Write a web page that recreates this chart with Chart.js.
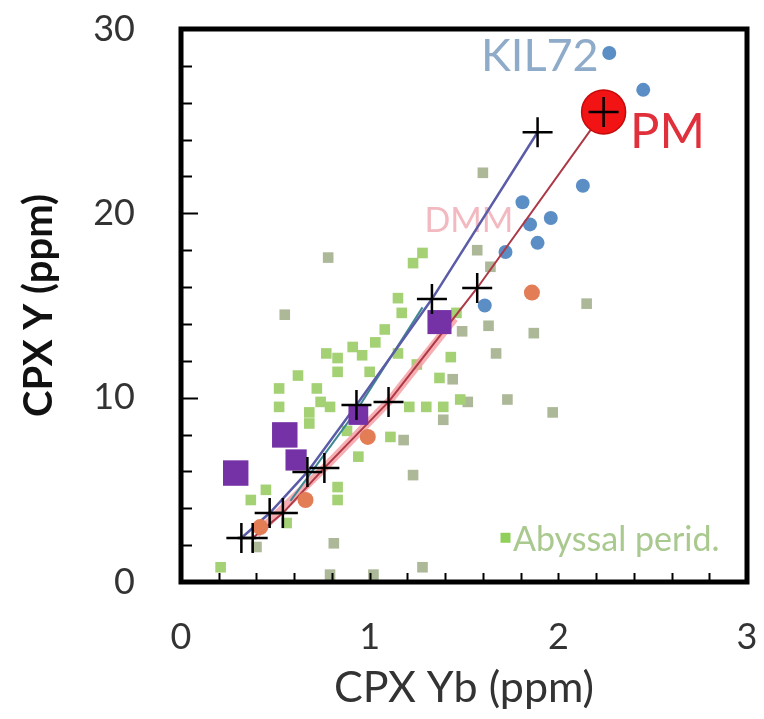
<!DOCTYPE html>
<html>
<head>
<meta charset="utf-8">
<script src="https://cdn.jsdelivr.net/npm/chart.js@4.4.1/dist/chart.umd.min.js"></script>
<style>
  html, body { margin: 0; padding: 0; background: #fff; }
  #wrap { width: 764px; height: 719px; }
</style>
</head>
<body>
<div id="wrap"><canvas id="cpxChart" width="764" height="719"></canvas></div>
<script>
// axis ticks
const xTickLabels = [0, 1, 2, 3];
const yTickLabels = [0, 10, 20, 30];
const xMinorStep = 0.2;
const yMinorStep = 2;

// abyssal peridotites (grey-green and bright green squares)
const abyssalGrey = [
  [0.78, 17.6], [0.55, 14.5], [1.60, 22.2], [1.57, 18.0], [1.64, 17.1], [2.15, 15.1],
  [1.87, 13.5], [1.67, 12.4], [1.73, 9.9], [1.97, 9.2], [1.18, 7.7], [1.23, 5.8],
  [0.81, 2.1], [1.28, 0.8], [0.79, 0.4], [1.02, 0.4], [0.40, 1.9], [1.52, 9.77],
  [1.49, 13.6], [1.63, 13.9], [1.44, 11.0], [1.39, 8.8]
];
const abyssalGreen = [
  [1.23, 17.3], [1.28, 17.85], [1.15, 15.4], [1.17, 14.6], [0.77, 12.4], [0.83, 12.15],
  [0.91, 12.75], [0.96, 12.3], [1.03, 13.0], [1.08, 13.7], [0.83, 11.4], [0.74, 9.77],
  [0.68, 9.2], [1.21, 9.5], [1.30, 9.5], [1.39, 9.5], [1.46, 14.6], [1.43, 12.2],
  [1.37, 11.07], [1.11, 7.87], [0.52, 10.5], [0.52, 9.5], [0.72, 10.5], [0.68, 8.6],
  [0.79, 9.5], [0.21, 0.8], [0.94, 6.8], [0.83, 5.15], [0.83, 4.45], [0.37, 4.45],
  [0.56, 3.2], [1.48, 9.9], [0.62, 11.2], [1.00, 11.4], [1.25, 11.8], [1.15, 12.4],
  [0.88, 8.2], [0.45, 5.0]
];
// KIL72 cpx
const kil72 = [
  [2.27, 28.7], [2.45, 26.7], [2.13, 21.5], [1.81, 20.6], [1.96, 19.75], [1.85, 19.4],
  [1.89, 18.4], [1.72, 17.9], [1.61, 15.0]
];
// primitive mantle
const pm = [[2.24, 25.5]];
// melting model steps (crosses)
const meltSteps = [
  [2.24, 25.5], [1.89, 24.4], [1.33, 15.35], [1.57, 15.95], [0.93, 9.6], [1.10, 9.77],
  [0.67, 5.97], [0.76, 6.19], [0.47, 3.74], [0.54, 3.74], [0.32, 2.39], [0.38, 2.39]
];
const pathBlue = [[0.32, 2.39], [0.47, 3.74], [0.67, 5.97], [0.93, 9.6], [1.33, 15.35], [1.89, 24.4]];
const pathTeal = [[0.58, 4.4], [0.93, 9.3], [1.28, 14.9]];
const pathRed = [[2.24, 25.5], [1.57, 15.95], [1.10, 9.77], [0.76, 6.19], [0.54, 3.74], [0.38, 2.39]];
const bandPink = [[0.40, 2.6], [0.76, 6.19], [1.10, 9.77], [1.45, 14.3]];
// other samples
const purpleSq = [[0.29, 5.91], [0.55, 7.98], [0.61, 6.62], [0.94, 9.06], [1.37, 14.1]];
const purpleSize = [18, 18, 15, 14, 17];
const orangeDots = [[1.86, 15.7], [0.99, 7.87], [0.66, 4.45], [0.42, 2.98]];

// text labels placed in data units
const textLabels = [
  { text: 'KIL72', x: 1.59, y: 28.5, color: '#8eabc9', size: 45 },
  { text: 'PM', x: 2.38, y: 24.4, color: '#e0303c', size: 49 },
  { text: 'DMM', x: 1.29, y: 19.6, color: '#f3b9c0', size: 34 },
  { text: 'Abyssal perid.', x: 1.76, y: 2.3, color: '#a9c98f', size: 34 }
];
const legendMark = [1.72, 2.4];

const pts = arr => arr.map(p => ({ x: p[0], y: p[1] }));

const decorPlugin = {
  id: 'decor',
  beforeDatasetsDraw(chart) {
    const { ctx, scales: { x, y } } = chart;
    ctx.save();
    ctx.textBaseline = 'middle';
    textLabels.forEach(l => {
      ctx.font = l.size + 'px Lato';
      ctx.fillStyle = l.color;
      ctx.fillText(l.text, x.getPixelForValue(l.x), y.getPixelForValue(l.y));
    });
    ctx.fillStyle = '#8fcf5a';
    const mx = x.getPixelForValue(legendMark[0]), my = y.getPixelForValue(legendMark[1]);
    ctx.fillRect(mx - 5, my - 5, 10, 10);
    ctx.restore();
  },
  afterDatasetsDraw(chart) {
    const { ctx, chartArea: a, scales: { x, y } } = chart;
    ctx.save();
    ctx.strokeStyle = '#000';
    ctx.lineWidth = 2;
    // inward minor ticks
    for (let v = 0; v <= 3.0001; v += xMinorStep) {
      const px = Math.round(x.getPixelForValue(v)) + 0.5;
      ctx.beginPath(); ctx.moveTo(px, a.bottom); ctx.lineTo(px, a.bottom - 9); ctx.stroke();
    }
    for (let v = 0; v <= 30; v += yMinorStep) {
      const py = Math.round(y.getPixelForValue(v)) + 0.5;
      const len = v % 10 === 0 ? 17 : 11;
      ctx.beginPath(); ctx.moveTo(a.left, py); ctx.lineTo(a.left + len, py); ctx.stroke();
    }
    ctx.lineWidth = 5;
    ctx.strokeRect(a.left, a.top, a.right - a.left, a.bottom - a.top);
    ctx.restore();
  }
};

// keep the plot box where the reference has it
function noPad(s) {
  s.paddingTop = 0; s.paddingBottom = 0; s.paddingLeft = 0; s.paddingRight = 0;
}

new Chart(document.getElementById('cpxChart'), {
  type: 'scatter',
  data: {
    datasets: [
      { data: pts(meltSteps), pointStyle: 'cross', pointRadius: 15, borderColor: '#000', borderWidth: 2.5 },
      { data: pts(pm), pointRadius: 22, backgroundColor: '#f21414', borderColor: '#c40a0a', borderWidth: 1.5 },
      { data: pts(purpleSq), pointStyle: 'rect', pointRadius: purpleSize, backgroundColor: '#7432a6', borderWidth: 0 },
      { data: pts(orangeDots), pointRadius: 8, backgroundColor: '#e27d55', borderWidth: 0 },
      { data: pts(pathBlue), showLine: true, pointRadius: 0, borderColor: '#5b5ca8', borderWidth: 2.5 },
      { data: pts(pathTeal), showLine: true, pointRadius: 0, borderColor: '#3f8893', borderWidth: 2 },
      { data: pts(pathRed), showLine: true, pointRadius: 0, borderColor: '#ad3846', borderWidth: 2 },
      { data: pts(bandPink), showLine: true, pointRadius: 0, borderColor: 'rgba(246,160,166,0.85)', borderWidth: 8 },
      { data: pts(kil72), pointRadius: 7, backgroundColor: '#5c8ec6', borderWidth: 0 },
      { data: pts(abyssalGreen), pointStyle: 'rect', pointRadius: 7.5, backgroundColor: '#a3d173', borderWidth: 0 },
      { data: pts(abyssalGrey), pointStyle: 'rect', pointRadius: 7.5, backgroundColor: '#acb897', borderWidth: 0 }
    ]
  },
  options: {
    responsive: false,
    animation: false,
    devicePixelRatio: 1,
    layout: { autoPadding: false, padding: { top: 29, right: 17, left: 0, bottom: 0 } },
    plugins: { legend: { display: false }, tooltip: { enabled: false } },
    scales: {
      x: {
        type: 'linear', min: xTickLabels[0], max: xTickLabels[xTickLabels.length - 1],
        grid: { display: false, drawTicks: false }, border: { display: false },
        ticks: { stepSize: 1, padding: 34, color: '#333', font: { family: 'Lato', size: 36 } },
        title: { display: true, text: 'CPX Yb (ppm)', color: '#333', font: { family: 'Lato', size: 43 }, padding: { bottom: 5 } },
        afterFit(s) { s.height = 137; noPad(s); }
      },
      y: {
        type: 'linear', min: yTickLabels[0], max: yTickLabels[yTickLabels.length - 1],
        grid: { display: false, drawTicks: false }, border: { display: false },
        ticks: { stepSize: 10, padding: 46, color: '#333', font: { family: 'Lato', size: 36 } },
        title: { display: true, text: 'CPX Y (ppm)', color: '#111', font: { family: 'Lato', size: 40, weight: 'bold' }, padding: { top: 15 } },
        afterFit(s) { s.width = 181; noPad(s); }
      }
    }
  },
  plugins: [decorPlugin]
});
</script>
</body>
</html>
